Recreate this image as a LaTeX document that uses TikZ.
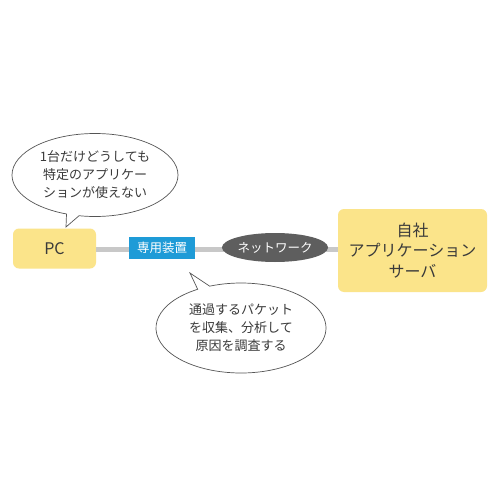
\documentclass[tikz,border=0pt]{standalone}
\usepackage{fontspec}
\setmainfont{Noto Sans CJK JP}
\usetikzlibrary{shapes.geometric,shapes.callouts}
\definecolor{boxyellow}{HTML}{FBE48A}
\definecolor{devblue}{HTML}{1E9BD7}
\definecolor{netgray}{HTML}{5E5E5E}
\definecolor{linegray}{HTML}{C8C8C8}
\definecolor{txt}{HTML}{3A3A3A}
\definecolor{bord}{HTML}{555555}
\tikzset{
  yellowbox/.style={fill=boxyellow, rounded corners=6pt, text=txt, align=center, inner sep=0pt},
  bubble/.style={ellipse callout, draw=bord, line width=0.7pt, fill=white, text=txt, align=center,
    font=\fontsize{13}{18}\selectfont, inner sep=0pt, callout pointer arc=9},
  conn/.style={line width=5pt, draw=linegray}
}
\begin{document}
\begin{tikzpicture}[x=1pt,y=-1pt]
\useasboundingbox (0,0) rectangle (500,500);
\fill[white] (0,0) rectangle (500,500);
\node[yellowbox, minimum width=83, minimum height=40, font=\fontsize{16}{20}\selectfont] (pc) at (54.5,248.5) {PC};
\node[yellowbox, minimum width=149, minimum height=83, font=\fontsize{16}{20.5}\selectfont] (srv) at (412.5,250.5) {自社\\アプリケーション\\サーバ};
\coordinate (dl) at (129,249);
\coordinate (dr) at (195,249);
\coordinate (nl) at (228,249);
\coordinate (nr) at (322,249);
\draw[conn] (pc.east |- dl) -- (dl);
\draw[conn] (dr) -- (nl);
\draw[conn] (nr) -- (srv.west |- nr);
\node[fill=devblue, text=white, minimum width=66, minimum height=22, inner sep=0pt, font=\fontsize{12.5}{15}\selectfont] (dev) at (162,248) {専用装置};
\node[ellipse, fill=netgray, text=white, minimum width=94, minimum height=29, inner sep=0pt, font=\fontsize{12.5}{15}\selectfont] (net) at (275,247.5) {ネットワーク};
\node[bubble, minimum width=166, minimum height=83, callout absolute pointer={(66,227)}] (b1) at (95,175) {1台だけどうしても\\特定のアプリケー\\ションが使えない};
\node[bubble, minimum width=170, minimum height=90, callout absolute pointer={(190,273)}] (b2) at (241,328) {通過するパケット\\を収集、分析して\\原因を調査する};
\end{tikzpicture}
\end{document}
